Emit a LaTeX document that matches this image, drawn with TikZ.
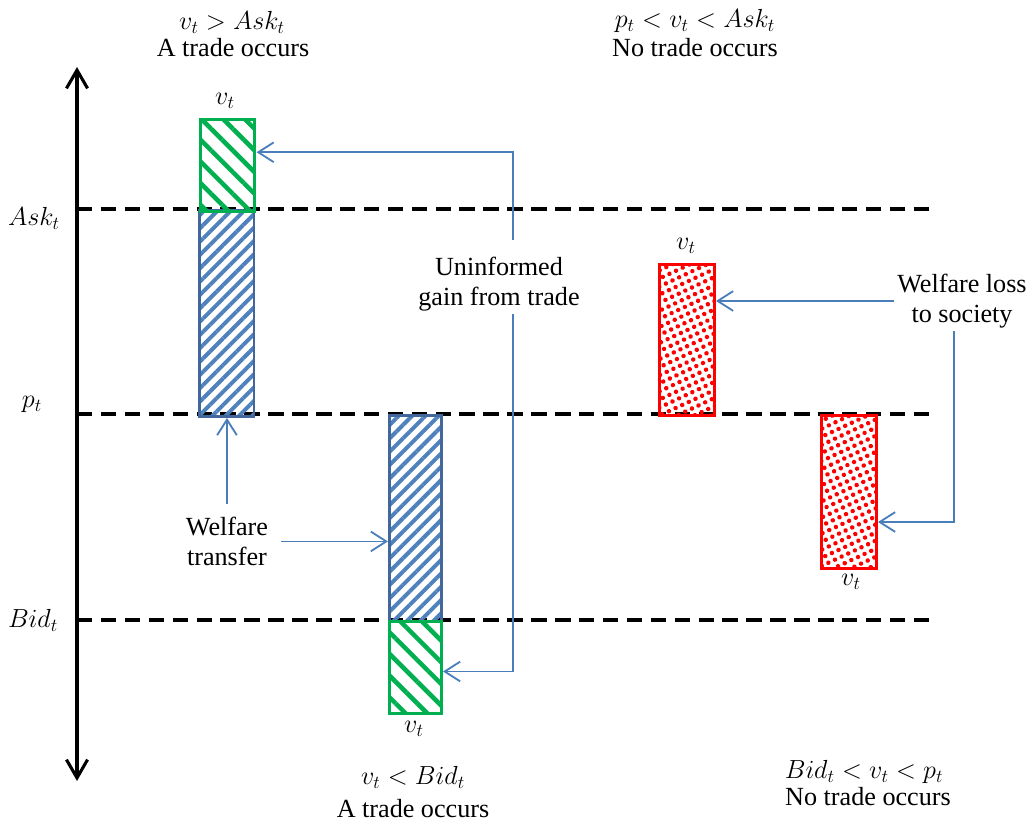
\RequirePackage{fix-cm}
\documentclass[tikz,border=0pt]{standalone}
\usepackage{fontspec}
\setmainfont{Liberation Serif}
\usepackage{xcolor}
\usepackage{tikz}
\usetikzlibrary{arrows.meta,patterns.meta,positioning}

\definecolor{hatchgreen}{HTML}{00B050}
\definecolor{hatchblue}{HTML}{4F81BD}
\definecolor{edgeblue}{HTML}{41679C}
\definecolor{linkblue}{HTML}{4A7EBB}
\definecolor{dotred}{HTML}{FF0000}

\begin{document}
\begin{tikzpicture}
  [
    x=0.025cm, y=-0.025cm,
    font=\fontsize{18.6}{21.3}\selectfont,
    Axis/.style={line width=2.2pt, >={Straight Barb[length=13pt,width=15pt]}, <->},
    Level/.style={line width=2.5pt, dash pattern=on 11pt off 6pt},
    Green/.style={draw=hatchgreen, line width=2.1pt, inner sep=0pt, anchor=north west, minimum width=1.35cm,
      pattern={Lines[angle=-45,distance=10.9pt,line width=3.2pt]}, pattern color=hatchgreen},
    Blue/.style={draw=edgeblue, line width=2.1pt, inner sep=0pt, anchor=north west, minimum width=1.35cm,
      pattern={Lines[angle=45,distance=6.7pt,line width=2.8pt]}, pattern color=hatchblue},
    Red/.style={draw=dotred, line width=2.1pt, inner sep=0pt, anchor=north west, minimum width=1.375cm,
      pattern={Dots[angle=25,distance=5.2pt,radius=1.6pt]}, pattern color=dotred},
    Link/.style={draw=linkblue, line width=1.3pt, -{Straight Barb[length=11pt,width=14pt]}},
    Txt/.style={align=center, inner sep=2pt}
  ]
  \useasboundingbox (0,0) rectangle (1033,828);

  % Axis and price levels
  \coordinate (axtop) at (77,67);
  \coordinate (axbot) at (77,781);
  \draw[Axis] (axbot) -- (axtop);
  \draw[Level] (77,209) -- (930,209);
  \draw[Level] (77,414) -- (930,414);
  \draw[Level] (77,620) -- (930,620);
  \node (asklbl) at (34,218) {$Ask_t$};
  \node (plbl) at (32,404) {$p_t$};
  \node (bidlbl) at (33,620) {$Bid_t$};

  % Boxes
  \node[Blue, minimum height=5.125cm] (askxfer) at (198,209) {};
  \node[Green, minimum height=2.3cm] (askgain) at (198,117) {};
  \node[Blue, minimum width=1.3cm, minimum height=5.15cm] (bidxfer) at (388,414) {};
  \node[Green, minimum width=1.3cm, minimum height=2.3cm] (bidgain) at (388,620) {};
  \node[Red, minimum height=3.775cm] (lossA) at (658,263) {};
  \node[Red, minimum height=3.825cm] (lossB) at (820,414) {};

  % v_t labels
  \node (vA) at (225,101) {$v_t$};
  \node (vB) at (414,729) {$v_t$};
  \node (vC) at (686,246) {$v_t$};
  \node (vD) at (851,582) {$v_t$};

  % Cases
  \node (condA) at (232,22) {$v_t > Ask_t$};
  \node (noteA) at (233,48) {A trade occurs};
  \node (condB) at (695,21) {$p_t < v_t < Ask_t$};
  \node (noteB) at (695,48) {No trade occurs};
  \node (condC) at (413,777) {$v_t < Bid_t$};
  \node (noteC) at (413,809) {A trade occurs};
  \node (condD) at (864,772) {$Bid_t < v_t < p_t$};
  \node (noteD) at (868,797) {No trade occurs};

  % Explanations
  \node[Txt] (gaintxt) at (499,284) {Uninformed\\gain from trade};
  \node[Txt, below=2.4cm of askxfer] (xfertxt) {Welfare\\transfer};
  \node[Txt] (losstxt) at (962,301) {Welfare loss\\to society};

  \draw[Link] ([xshift=0.35cm,yshift=0.35cm]gaintxt.north) |- ([yshift=0.325cm]askgain.east);
  \draw[Link] ([xshift=0.35cm]gaintxt.south) |- ([yshift=-0.1cm]bidgain.east);
  \draw[Link] ([yshift=0.25cm]xfertxt.north) -- (askxfer.south);
  \draw[Link] ([xshift=0.25cm]xfertxt.east) -- (xfertxt.east -| bidxfer.west);
  \draw[Link] (losstxt.west) -- (losstxt.west -| lossA.east);
  \draw[Link] ([xshift=-0.2cm]losstxt.south) |- ([yshift=-0.75cm]lossB.east);
\end{tikzpicture}
\end{document}
